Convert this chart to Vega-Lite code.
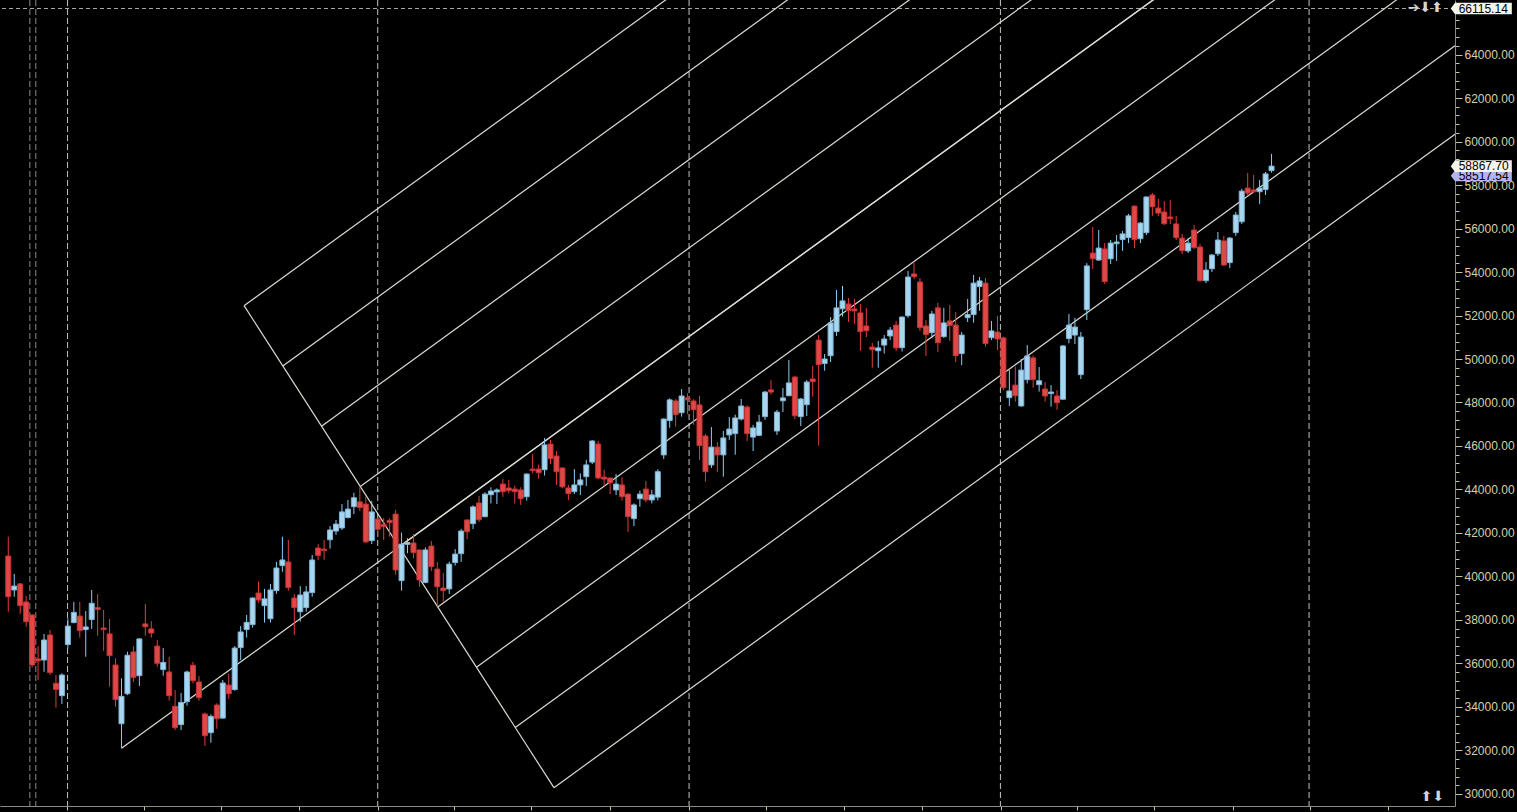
{
  "$schema": "https://vega.github.io/schema/vega-lite/v6.json",
  "width": 1455,
  "height": 806,
  "autosize": "none",
  "padding": {"left": 0, "top": 0, "right": 62, "bottom": 6},
  "background": "#000000",
  "config": {"view": {"stroke": null}, "font": "Liberation Sans"},
  "datasets": {
    "candles": [
      {"i":0,"o":40940,"h":41830,"l":38380,"c":39070},{"i":1,"o":39380,"h":40120,"l":39070,"c":39560},{"i":2,"o":39660,"h":39700,"l":38280,"c":38660},{"i":3,"o":38830,"h":39100,"l":37690,"c":37920},{"i":4,"o":38230,"h":38260,"l":35820,"c":35930},{"i":5,"o":36210,"h":36800,"l":35240,"c":36120},{"i":6,"o":36160,"h":37360,"l":35620,"c":37080},{"i":7,"o":37310,"h":37540,"l":35470,"c":35580},{"i":8,"o":35090,"h":35470,"l":33970,"c":34810},{"i":9,"o":34520,"h":35550,"l":34140,"c":35470},
      {"i":10,"o":36870,"h":38080,"l":36700,"c":37720},{"i":11,"o":37880,"h":38830,"l":37850,"c":38350},{"i":12,"o":38180,"h":38830,"l":37190,"c":37510},{"i":13,"o":37560,"h":38410,"l":36310,"c":37680},{"i":14,"o":38020,"h":39380,"l":37590,"c":38770},{"i":15,"o":38570,"h":39200,"l":37280,"c":38480},{"i":16,"o":37630,"h":38460,"l":36580,"c":37560},{"i":17,"o":37360,"h":38050,"l":34940,"c":36360},{"i":18,"o":35930,"h":36240,"l":34020,"c":34340},{"i":19,"o":33230,"h":35320,"l":32100,"c":34490},
      {"i":20,"o":34610,"h":36540,"l":34550,"c":36380},{"i":21,"o":36530,"h":36800,"l":35150,"c":35360},{"i":22,"o":35440,"h":37160,"l":34970,"c":37130},{"i":23,"o":37820,"h":38740,"l":37280,"c":37690},{"i":24,"o":37590,"h":37950,"l":37190,"c":37400},{"i":25,"o":36800,"h":37080,"l":35850,"c":36010},{"i":26,"o":35720,"h":36710,"l":35440,"c":36050},{"i":27,"o":35610,"h":36300,"l":34290,"c":34520},{"i":28,"o":34030,"h":34780,"l":32940,"c":33050},{"i":29,"o":33190,"h":34640,"l":32940,"c":34210},
      {"i":30,"o":34250,"h":35670,"l":34060,"c":35610},{"i":31,"o":35920,"h":36070,"l":35090,"c":35210},{"i":32,"o":35150,"h":35430,"l":34290,"c":34430},{"i":33,"o":33680,"h":33740,"l":32210,"c":32680},{"i":34,"o":32820,"h":33660,"l":32360,"c":33570},{"i":35,"o":34090,"h":34170,"l":33000,"c":33460},{"i":36,"o":33490,"h":35240,"l":33460,"c":35100},{"i":37,"o":35010,"h":35520,"l":34370,"c":34610},{"i":38,"o":34800,"h":36800,"l":34750,"c":36710},{"i":39,"o":36730,"h":37720,"l":36160,"c":37450},
      {"i":40,"o":37560,"h":38230,"l":37190,"c":37890},{"i":41,"o":37790,"h":39040,"l":37650,"c":39010},{"i":42,"o":39240,"h":39760,"l":38800,"c":38920},{"i":43,"o":38660,"h":39430,"l":37880,"c":38970},{"i":44,"o":38060,"h":39660,"l":37880,"c":39380},{"i":45,"o":39350,"h":40670,"l":39200,"c":40390},{"i":46,"o":40500,"h":41830,"l":40220,"c":40760},{"i":47,"o":40670,"h":41680,"l":39350,"c":39490},{"i":48,"o":39010,"h":39200,"l":37310,"c":38570},{"i":49,"o":38380,"h":39560,"l":37920,"c":39150},
      {"i":50,"o":38570,"h":39560,"l":38380,"c":39290},{"i":51,"o":39260,"h":40990,"l":39070,"c":40760},{"i":52,"o":41310,"h":41490,"l":40760,"c":40970},{"i":53,"o":41260,"h":41680,"l":40760,"c":41190},{"i":54,"o":41690,"h":42320,"l":41280,"c":42140},{"i":55,"o":42090,"h":42600,"l":41910,"c":42410},{"i":56,"o":42230,"h":43330,"l":42140,"c":42970},{"i":57,"o":42710,"h":43520,"l":42670,"c":43100},{"i":58,"o":43210,"h":43850,"l":42870,"c":43620},{"i":59,"o":43430,"h":44100,"l":43010,"c":43170},
      {"i":60,"o":43330,"h":43670,"l":41530,"c":41590},{"i":61,"o":41650,"h":43470,"l":41490,"c":42970},{"i":62,"o":42640,"h":42660,"l":41830,"c":42170},{"i":63,"o":42400,"h":42690,"l":41680,"c":42290},{"i":64,"o":42580,"h":42670,"l":41830,"c":42480},{"i":65,"o":42870,"h":43060,"l":40080,"c":40300},{"i":66,"o":39810,"h":42020,"l":39350,"c":41490},{"i":67,"o":41480,"h":41760,"l":41070,"c":41560},{"i":68,"o":41540,"h":41950,"l":40840,"c":41100},{"i":69,"o":41220,"h":41240,"l":39530,"c":39840},
      {"i":70,"o":39730,"h":41340,"l":39690,"c":41220},{"i":71,"o":41400,"h":41630,"l":40250,"c":40450},{"i":72,"o":40340,"h":40670,"l":38610,"c":39530},{"i":73,"o":39470,"h":40160,"l":38840,"c":39350},{"i":74,"o":39430,"h":40680,"l":39200,"c":40570},{"i":75,"o":40640,"h":41260,"l":40500,"c":41030},{"i":76,"o":41050,"h":42180,"l":40670,"c":42090},{"i":77,"o":42600,"h":42620,"l":41720,"c":42060},{"i":78,"o":42430,"h":43270,"l":42180,"c":43200},{"i":79,"o":43380,"h":43700,"l":42510,"c":42610},
      {"i":80,"o":42750,"h":43870,"l":42720,"c":43790},{"i":81,"o":43760,"h":44100,"l":43360,"c":43930},{"i":82,"o":43890,"h":44050,"l":43330,"c":43980},{"i":83,"o":44250,"h":44480,"l":43660,"c":43900},{"i":84,"o":44070,"h":44440,"l":43820,"c":43950},{"i":85,"o":44020,"h":44180,"l":43350,"c":43900},{"i":86,"o":43980,"h":44100,"l":43290,"c":43580},{"i":87,"o":43670,"h":44740,"l":43490,"c":44710},{"i":88,"o":44940,"h":45630,"l":44740,"c":44870},{"i":89,"o":44940,"h":45140,"l":44500,"c":44770},
      {"i":90,"o":44910,"h":46370,"l":44640,"c":46050},{"i":91,"o":46090,"h":46280,"l":45170,"c":45420},{"i":92,"o":45540,"h":45770,"l":44210,"c":44820},{"i":93,"o":44990,"h":45020,"l":44050,"c":44120},{"i":94,"o":44070,"h":44210,"l":43520,"c":43810},{"i":95,"o":43900,"h":44940,"l":43790,"c":44210},{"i":96,"o":44210,"h":44740,"l":43750,"c":44440},{"i":97,"o":44590,"h":45360,"l":44160,"c":45130},{"i":98,"o":45260,"h":46280,"l":45170,"c":46230},{"i":99,"o":46090,"h":46230,"l":44470,"c":44530},
      {"i":100,"o":44570,"h":44900,"l":44160,"c":44480},{"i":101,"o":44530,"h":44540,"l":43790,"c":44310},{"i":102,"o":43980,"h":44710,"l":43750,"c":44250},{"i":103,"o":44210,"h":44560,"l":43490,"c":43670},{"i":104,"o":43790,"h":43810,"l":42050,"c":42750},{"i":105,"o":42660,"h":43360,"l":42320,"c":43290},{"i":106,"o":43580,"h":43950,"l":43210,"c":43790},{"i":107,"o":44020,"h":44390,"l":43410,"c":43520},{"i":108,"o":43520,"h":43980,"l":43360,"c":43750},{"i":109,"o":43650,"h":44930,"l":43500,"c":44820},
      {"i":110,"o":45590,"h":47270,"l":45400,"c":47240},{"i":111,"o":47170,"h":48190,"l":46840,"c":48120},{"i":112,"o":48070,"h":48160,"l":46890,"c":47440},{"i":113,"o":47530,"h":48620,"l":47350,"c":48300},{"i":114,"o":48210,"h":48420,"l":47460,"c":48120},{"i":115,"o":48070,"h":48150,"l":46980,"c":47670},{"i":116,"o":47890,"h":48310,"l":45360,"c":46020},{"i":117,"o":46460,"h":46550,"l":44360,"c":44820},{"i":118,"o":45130,"h":46870,"l":44990,"c":45950},{"i":119,"o":45950,"h":46180,"l":44800,"c":45590},
      {"i":120,"o":45590,"h":46690,"l":44590,"c":46370},{"i":121,"o":46510,"h":47330,"l":46280,"c":46780},{"i":122,"o":46570,"h":47440,"l":45600,"c":47290},{"i":123,"o":47240,"h":48160,"l":47170,"c":47840},{"i":124,"o":47790,"h":47870,"l":46230,"c":46570},{"i":125,"o":46410,"h":46970,"l":45770,"c":46830},{"i":126,"o":46490,"h":47430,"l":46460,"c":47100},{"i":127,"o":47350,"h":48530,"l":47200,"c":48480},{"i":128,"o":48580,"h":49030,"l":48360,"c":48480},{"i":129,"o":46690,"h":47660,"l":46510,"c":47560},
      {"i":130,"o":48080,"h":48670,"l":47560,"c":48210},{"i":131,"o":48310,"h":49950,"l":48300,"c":48900},{"i":132,"o":49170,"h":49220,"l":47240,"c":47390},{"i":133,"o":47350,"h":48210,"l":46920,"c":48160},{"i":134,"o":47900,"h":49030,"l":47380,"c":48940},{"i":135,"o":49080,"h":49680,"l":48270,"c":48960},{"i":136,"o":50870,"h":51100,"l":46020,"c":49740},{"i":137,"o":49790,"h":50230,"l":49460,"c":50000},{"i":138,"o":50150,"h":51930,"l":49860,"c":51660},{"i":139,"o":51260,"h":53170,"l":51060,"c":52350},
      {"i":140,"o":52310,"h":53360,"l":51950,"c":52670},{"i":141,"o":52530,"h":52810,"l":51700,"c":52220},{"i":142,"o":52300,"h":52760,"l":51610,"c":52210},{"i":143,"o":52120,"h":52530,"l":50380,"c":51260},{"i":144,"o":51520,"h":52350,"l":51010,"c":51300},{"i":145,"o":50550,"h":50740,"l":49600,"c":50430},{"i":146,"o":50380,"h":50830,"l":49600,"c":50510},{"i":147,"o":50640,"h":51100,"l":50250,"c":50920},{"i":148,"o":51060,"h":51470,"l":50870,"c":51330},{"i":149,"o":51560,"h":51750,"l":50370,"c":50510},
      {"i":150,"o":50520,"h":51950,"l":50340,"c":51930},{"i":151,"o":51990,"h":54050,"l":51900,"c":53770},{"i":152,"o":53910,"h":54430,"l":53680,"c":53790},{"i":153,"o":53540,"h":53720,"l":51290,"c":51440},{"i":154,"o":51520,"h":51790,"l":50140,"c":51120},{"i":155,"o":51210,"h":52210,"l":50950,"c":52070},{"i":156,"o":52350,"h":52580,"l":50320,"c":50750},{"i":157,"o":51030,"h":52350,"l":50970,"c":51660},{"i":158,"o":51750,"h":52480,"l":50830,"c":51550},{"i":159,"o":51560,"h":52160,"l":49860,"c":50150},
      {"i":160,"o":50250,"h":51240,"l":49720,"c":51100},{"i":161,"o":51900,"h":52760,"l":51700,"c":52040},{"i":162,"o":52040,"h":53860,"l":51670,"c":53490},{"i":163,"o":53330,"h":53770,"l":52220,"c":53590},{"i":164,"o":53490,"h":53720,"l":50570,"c":50710},{"i":165,"o":50980,"h":51750,"l":50870,"c":51290},{"i":166,"o":51240,"h":51980,"l":50410,"c":50920},{"i":167,"o":50970,"h":51030,"l":48570,"c":48680},{"i":168,"o":48220,"h":49490,"l":47840,"c":48530},{"i":169,"o":48800,"h":49650,"l":48040,"c":48310},
      {"i":170,"o":47840,"h":50000,"l":47810,"c":49490},{"i":171,"o":49050,"h":50640,"l":48880,"c":50140},{"i":172,"o":50050,"h":50150,"l":48680,"c":49050},{"i":173,"o":48820,"h":49630,"l":48500,"c":49000},{"i":174,"o":48620,"h":48940,"l":48040,"c":48300},{"i":175,"o":48410,"h":48800,"l":47810,"c":48480},{"i":176,"o":48300,"h":48570,"l":47660,"c":47990},{"i":177,"o":48150,"h":50640,"l":48120,"c":50600},{"i":178,"o":50940,"h":52070,"l":50720,"c":51560},{"i":179,"o":51100,"h":51890,"l":50690,"c":51470},
      {"i":180,"o":49280,"h":51240,"l":49080,"c":51010},{"i":181,"o":52270,"h":54410,"l":51790,"c":54280},{"i":182,"o":54870,"h":56070,"l":54140,"c":54610},{"i":183,"o":54550,"h":55930,"l":54520,"c":55100},{"i":184,"o":55060,"h":55330,"l":53450,"c":53560},{"i":185,"o":54610,"h":55470,"l":54370,"c":55330},{"i":186,"o":55300,"h":55700,"l":54510,"c":55380},{"i":187,"o":55490,"h":55890,"l":54970,"c":55750},{"i":188,"o":55580,"h":56670,"l":55330,"c":56580},{"i":189,"o":57030,"h":57060,"l":55100,"c":55490},
      {"i":190,"o":55530,"h":56300,"l":55330,"c":56250},{"i":191,"o":55810,"h":57470,"l":55700,"c":57450},{"i":192,"o":57540,"h":57630,"l":56580,"c":57000},{"i":193,"o":56940,"h":57360,"l":56580,"c":56710},{"i":194,"o":56760,"h":57260,"l":56160,"c":56220},{"i":195,"o":56530,"h":57310,"l":56210,"c":56450},{"i":196,"o":56210,"h":56580,"l":55470,"c":55580},{"i":197,"o":55560,"h":55750,"l":54830,"c":54980},{"i":198,"o":54970,"h":55560,"l":54870,"c":55330},{"i":199,"o":55930,"h":56160,"l":55060,"c":55120},
      {"i":200,"o":55150,"h":55290,"l":53540,"c":53600},{"i":201,"o":53600,"h":54460,"l":53490,"c":54090},{"i":202,"o":54150,"h":54830,"l":54000,"c":54780},{"i":203,"o":54840,"h":55840,"l":54740,"c":55470},{"i":204,"o":55430,"h":55660,"l":54280,"c":54320},{"i":205,"o":54430,"h":55610,"l":54180,"c":55560},{"i":206,"o":55810,"h":56760,"l":55660,"c":56620},{"i":207,"o":56310,"h":57820,"l":56210,"c":57720},{"i":208,"o":57860,"h":58550,"l":57490,"c":57630},{"i":209,"o":57770,"h":58460,"l":57630,"c":57690},
      {"i":210,"o":57690,"h":58230,"l":57130,"c":57860},{"i":211,"o":57790,"h":58600,"l":57540,"c":58510},{"i":212,"o":58660,"h":59430,"l":58570,"c":58867.7}
    ],
    "fork": [
      {"name":"base","i1":39.57,"p1":52451,"i2":91.57,"p2":30291},
      {"name":"median","i1":19,"p1":32100,"i2":250,"p2":78000},
      {"name":"l0","i1":39.57,"p1":52451,"i2":250,"p2":94264},
      {"name":"l1","i1":46.07,"p1":49681,"i2":250,"p2":90202},
      {"name":"l2","i1":52.57,"p1":46911,"i2":250,"p2":86140},
      {"name":"l3","i1":59.07,"p1":44141,"i2":250,"p2":82079},
      {"name":"l4","i1":65.57,"p1":41371,"i2":250,"p2":78017},
      {"name":"l5","i1":72.07,"p1":38601,"i2":250,"p2":73956},
      {"name":"l6","i1":78.57,"p1":35831,"i2":250,"p2":69894},
      {"name":"l7","i1":85.07,"p1":33061,"i2":250,"p2":65833},
      {"name":"l8","i1":91.57,"p1":30291,"i2":250,"p2":61771}
    ],
    "separators": [{"i":3.62},{"i":4.62},{"i":9.95},{"i":62.0},{"i":114.25},{"i":166.5},{"i":218.3}]
  },
  "layer": [
    {
      "data": {"name": "candles"},
      "mark": {"type": "rule", "strokeWidth": 1, "opacity": 0},
      "encoding": {
        "x": {
          "field": "i", "type": "quantitative", "title": null,
          "scale": {"domain": [-0.55, 241.95], "nice": false, "zero": false},
          "axis": {
            "orient": "bottom", "title": null, "labels": false, "grid": false,
            "values": [9.83, 22.7, 35.7, 48.8, 62.0, 74.8, 87.8, 101.0, 114.2, 127.2, 140.2, 153.3, 166.6, 179.4, 192.3, 205.5, 218.5, 231.5],
            "tickCount": 100,
            "domainColor": "#8c8c7c", "tickColor": "#c8c4a0", "tickSize": 4
          }
        },
        "y": {
          "field": "l", "type": "quantitative", "title": null,
          "scale": {"domain": [29448, 66506], "nice": false, "zero": false},
          "axis": {
            "orient": "right", "title": null, "grid": false,
            "values": [30000,30400,30800,31200,31600,32000,32400,32800,33200,33600,34000,34400,34800,35200,35600,36000,36400,36800,37200,37600,38000,38400,38800,39200,39600,40000,40400,40800,41200,41600,42000,42400,42800,43200,43600,44000,44400,44800,45200,45600,46000,46400,46800,47200,47600,48000,48400,48800,49200,49600,50000,50400,50800,51200,51600,52000,52400,52800,53200,53600,54000,54400,54800,55200,55600,56000,56400,56800,57200,57600,58000,58400,58800,59200,59600,60000,60400,60800,61200,61600,62000,62400,62800,63200,63600,64000,64400,64800,65200,65600,66000],
            "tickCount": 200,
            "labelExpr": "(datum.value % 2000 === 0 && datum.value <= 64000) ? format(datum.value, '.2f') : ''",
            "tickSize": {"condition": {"test": "datum.value % 2000 === 0", "value": 7}, "value": 4},
            "tickColor": "#c8c4a0",
            "labelPadding": 2,
            "labelFont": "Liberation Sans", "labelFontSize": 12, "labelColor": "#d4d0a8",
            "labelBaseline": "middle", "labelAlign": "left", "labelFlush": false, "labelOverlap": false,
            "domainColor": "#8c8c7c"
          }
        },
        "y2": {"field": "h"}
      }
    },
    {
      "data": {"name": "separators"},
      "mark": {"type": "rule", "strokeDash": [6, 3], "strokeWidth": 1},
      "encoding": {
        "x": {"field": "i", "type": "quantitative", "title": null},
        "color": {"condition": {"test": "datum.i < 8", "value": "#8a8a8a"}, "value": "#c4c4c4"}
      }
    },
    {
      "data": {"values": [{"p": 66115.14}]},
      "mark": {"type": "rule", "strokeDash": [4, 3], "strokeWidth": 1, "color": "#a8a8a8"},
      "encoding": {
        "y": {"field": "p", "type": "quantitative", "title": null}
      }
    },
    {
      "data": {"name": "fork"},
      "mark": {"type": "rule", "clip": true, "color": "#dcdcd4", "strokeWidth": 1.2},
      "encoding": {
        "x": {"field": "i1", "type": "quantitative", "title": null},
        "x2": {"field": "i2"},
        "y": {"field": "p1", "type": "quantitative", "title": null},
        "y2": {"field": "p2"}
      }
    },
    {
      "data": {"name": "candles"},
      "mark": {"type": "rule", "strokeWidth": 1},
      "encoding": {
        "x": {"field": "i", "type": "quantitative", "title": null},
        "y": {"field": "l", "type": "quantitative", "title": null},
        "y2": {"field": "h"},
        "color": {"condition": {"test": "datum.c >= datum.o", "value": "#8ccdf2"}, "value": "#e23c3c"}
      }
    },
    {
      "data": {"name": "candles"},
      "mark": {"type": "bar", "size": 5, "strokeWidth": 1},
      "encoding": {
        "x": {"field": "i", "type": "quantitative", "title": null},
        "y": {"field": "o", "type": "quantitative", "title": null},
        "y2": {"field": "c"},
        "fill": {"condition": {"test": "datum.c >= datum.o", "value": "#a8d6ee"}, "value": "#e04848"},
        "stroke": {"condition": {"test": "datum.c >= datum.o", "value": "#7fb4d6"}, "value": "#c23434"}
      }
    },
    {
      "data": {"values": [{"p": 58517.54}]},
      "mark": {"type": "point", "shape": "M-1,0L-0.86,-0.18L1,-0.18L1,0.18L-0.86,0.18Z", "size": 3721, "filled": true, "color": "#b4b4f4", "opacity": 1, "yOffset": 2},
      "encoding": {"x": {"datum": 247.2, "type": "quantitative"}, "y": {"field": "p", "type": "quantitative", "title": null}}
    },
    {
      "data": {"values": [{"p": 58517.54}]},
      "mark": {"type": "text", "align": "left", "baseline": "middle", "font": "Liberation Sans", "fontSize": 12, "color": "#000000", "yOffset": 2},
      "encoding": {"x": {"datum": 243.4, "type": "quantitative"}, "y": {"field": "p", "type": "quantitative", "title": null}, "text": {"field": "p", "type": "quantitative", "format": ".2f"}}
    },
    {
      "data": {"values": [{"p": 66115.14}, {"p": 58867.7}]},
      "mark": {"type": "point", "shape": "M-1,0L-0.86,-0.19L1,-0.19L1,0.19L-0.86,0.19Z", "size": 3721, "filled": true, "color": "#f4f4ea", "opacity": 1},
      "encoding": {"x": {"datum": 247.2, "type": "quantitative"}, "y": {"field": "p", "type": "quantitative", "title": null}}
    },
    {
      "data": {"values": [{"p": 66115.14}, {"p": 58867.7}]},
      "mark": {"type": "text", "align": "left", "baseline": "middle", "font": "Liberation Sans", "fontSize": 12, "color": "#000000"},
      "encoding": {"x": {"datum": 243.4, "type": "quantitative"}, "y": {"field": "p", "type": "quantitative", "title": null}, "text": {"field": "p", "type": "quantitative", "format": ".2f"}}
    },
    {
      "data": {"values": [{"t": "➔⬇⬆", "i": 237.8, "p": 66150}, {"t": "⬆⬇", "i": 239.0, "p": 29880}]},
      "mark": {"type": "text", "align": "center", "baseline": "middle", "font": "DejaVu Sans", "fontSize": 14, "color": "#d4d4d4"},
      "encoding": {"x": {"field": "i", "type": "quantitative", "title": null}, "y": {"field": "p", "type": "quantitative", "title": null}, "text": {"field": "t"}}
    }
  ]
}
